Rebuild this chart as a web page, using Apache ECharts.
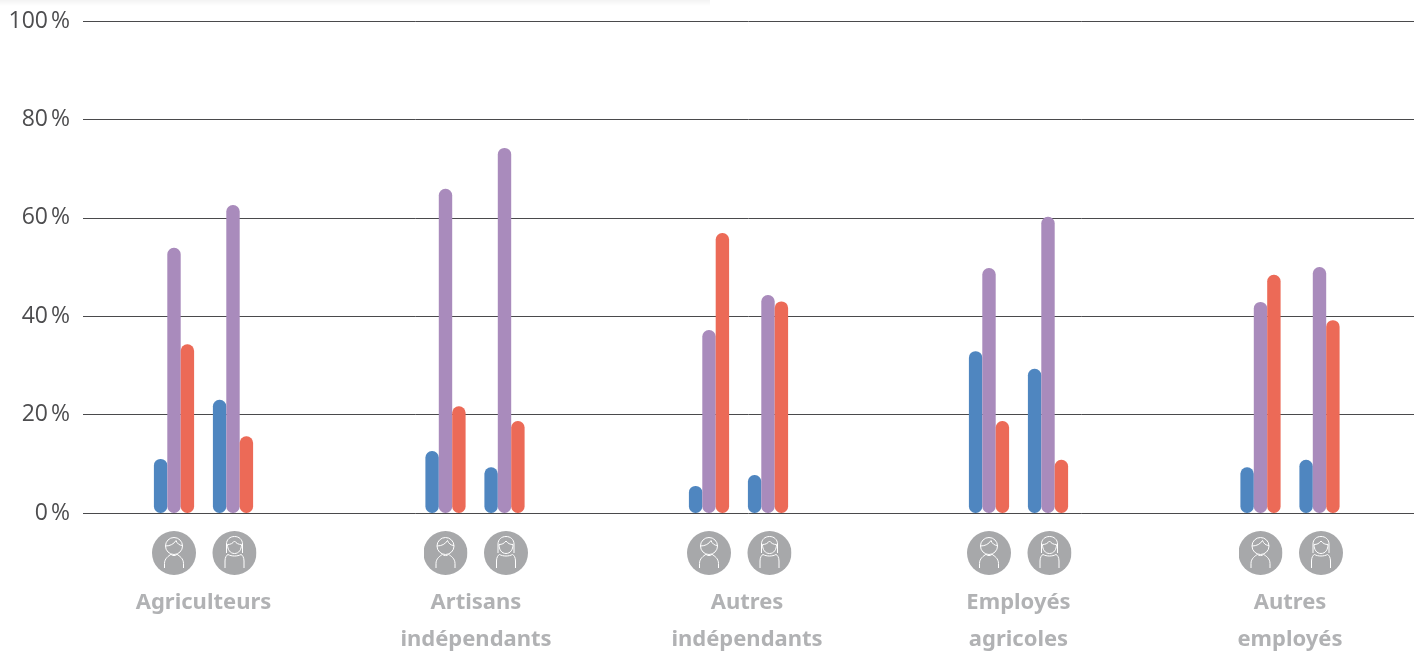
<!DOCTYPE html>
<html><head><meta charset="utf-8">
<style>html,body{margin:0;padding:0;background:#fff}#c{width:1414px;height:651px}</style>
<script src="https://cdn.jsdelivr.net/npm/echarts@6/dist/echarts.min.js"></script>
</head><body><div id="c"></div>
<script>
const groups = ['Agriculteurs','Artisans\nindépendants','Autres\nindépendants','Employés\nagricoles','Autres\nemployés'];
const sexes = ['Hommes','Femmes'];
const blueValues   = [[11,23],[12.6,9.3],[5.5,7.7],[32.9,29.3],[9.3,10.8]];
const purpleValues = [[53.9,62.6],[65.9,74.2],[37.2,44.3],[49.8,60.2],[42.9,50]];
const redValues    = [[34.3,15.6],[21.7,18.7],[56.9,43],[18.7,10.8],[48.4,39.2]];
const groupCentres = [203.5,475,738.5,1018.5,1290];
const labelPadLeft = [0,2,17,0,0];

const svg = (w,dx,inner) => 'data:image/svg+xml;utf8,' + encodeURIComponent(
  '<svg xmlns="http://www.w3.org/2000/svg" width="'+w+'" height="44" viewBox="0 0 '+w+' 44"><g transform="translate('+dx+' 0)"><circle cx="22" cy="22" r="22" fill="#a7a8aa"/><g fill="none" stroke="#fff" stroke-width="1">'+inner+'</g></g></svg>');
const manIcon = svg(44,0,'<circle cx="22" cy="15" r="8.5"/><path d="M13.6 15C18 15 22 13 24 9.5C25 12.5 27.5 14.5 30.5 14.5"/><path d="M12.5 37V32.5C12.5 27.5 16.5 25 19 23.3C20 25 24 25 25 23.3C27.5 25 31.5 27.5 31.5 32.5V37"/>');
const womanIcon = svg(47,3,'<path d="M14 22V13C14 8.5 17.5 5.5 22 5.5C26.5 5.5 30 8.5 30 13V22"/><path d="M15 13.5C18 13.5 20 12.5 22 10C24 12.5 26 13.5 29 13.5C29 18.5 26.5 22.5 22 22.5C17.5 22.5 15 18.5 15 13.5Z"/><path d="M12.5 37V30C12.5 26.5 14 24 15.5 23.5C19 25.5 25 25.5 28.5 23.5C30 24 31.5 26.5 31.5 30V37"/>');

const grid=[{left:83,right:0,top:21,bottom:138,outerBoundsMode:'none'}];
const xAxis=[{type:'value',gridIndex:0,show:false,min:0,max:1}];
const yAxis=[{type:'value',gridIndex:0,min:0,max:100,interval:20,
  axisLine:{show:false},axisTick:{show:false},
  axisLabel:{margin:13,fontFamily:'Open Sans',fontSize:23,color:'#4d4d4f',formatter:v=>v+'\u202f%'},
  splitLine:{show:true,lineStyle:{color:'#4a4a4c',width:1}}}];
const series=[];
const colours=['#4f86c0','#a98bbc','#ec6a57'];
const names=['Bleu','Violet','Rouge'];
groups.forEach((g,i)=>{
  const idx=i+1;
  grid.push({left:groupCentres[i]-59,width:118,top:21,bottom:138,outerBoundsMode:'none'});
  xAxis.push({type:'category',gridIndex:idx,data:sexes,
    axisLine:{show:false},axisTick:{show:false},
    axisLabel:{margin:18,interval:0,
      formatter:v=>v==='Hommes'?'{m|}':'{f|}',
      rich:{m:{width:44,height:44,backgroundColor:{image:manIcon}},f:{width:47,height:44,backgroundColor:{image:womanIcon}}}},
    name:g,nameLocation:'middle',nameGap:71,
    nameTextStyle:{fontFamily:'Noto Sans',fontWeight:'bold',fontSize:22,color:'#b1b2b4',lineHeight:37,verticalAlign:'top',padding:[0,0,0,labelPadLeft[i]]}});
  yAxis.push({type:'value',gridIndex:idx,min:0,max:100,show:false});
  [blueValues,purpleValues,redValues].forEach((arr,k)=>{
    series.push({type:'bar',name:names[k],xAxisIndex:idx,yAxisIndex:idx,data:arr[i],barWidth:13.4,barGap:'0%',
      itemStyle:{color:colours[k],borderRadius:6.5},silent:true,animation:false});
  });
});
const chart=echarts.init(document.getElementById('c'));
chart.setOption({animation:false,backgroundColor:'#fff',grid,xAxis,yAxis,series,
  graphic:[{type:'rect',silent:true,shape:{x:0,y:0,width:710,height:6},
    style:{fill:new echarts.graphic.LinearGradient(0,0,0,1,[{offset:0,color:'#f3f3f3'},{offset:1,color:'#ffffff'}])}}]});
</script></body></html>
